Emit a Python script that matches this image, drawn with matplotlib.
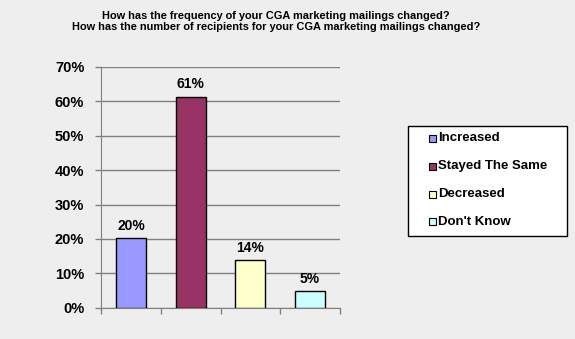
import matplotlib.pyplot as plt
from matplotlib.patches import Rectangle
from matplotlib.ticker import MultipleLocator, FuncFormatter

plt.rcParams['font.family'] = ['Liberation Sans', 'DejaVu Sans']

# data
categories = ['Increased', 'Stayed The Same', 'Decreased', "Don't Know"]
values = [20.3, 61.4, 13.8, 4.8]
labels = ['20%', '61%', '14%', '5%']
colors = ['#9999FF', '#993366', '#FFFFCC', '#CCFFFF']

W, H = 575, 339
bg = '#EEEEEE'
fig = plt.figure(figsize=(W / 100, H / 100), dpi=100, facecolor=bg)
ax = fig.add_axes([101 / W, 1 - 307.7 / H, 239 / W, 240.7 / H], facecolor=bg)

x = range(len(categories))
bars = ax.bar(x, values, width=0.5, color=colors, edgecolor='black', linewidth=1, zorder=3)

for b, lab in zip(bars, labels):
    ax.text(b.get_x() + b.get_width() / 2, b.get_height() + 1.5, lab,
            ha='center', va='bottom', fontsize=10, fontweight='bold')

ax.set_xlim(-0.5, 3.5)
ax.set_ylim(0, 70)
ax.yaxis.set_major_locator(MultipleLocator(10))
ax.yaxis.set_major_formatter(FuncFormatter(lambda v, p: f'{v:.0f}%'))
ax.set_xticks([-0.5, 0.5, 1.5, 2.5, 3.5])
ax.set_xticklabels([])
ax.tick_params(axis='x', length=4, color='#808080', width=1)
ax.tick_params(axis='y', length=4, color='#808080', width=1, labelsize=10.5, pad=8)
for t in ax.get_yticklabels():
    t.set_fontweight('bold')

ax.grid(axis='y', color='#808080', linewidth=1, zorder=0)
for s in ['top', 'right']:
    ax.spines[s].set_visible(False)
for s in ['left', 'bottom']:
    ax.spines[s].set_color('#808080')

fig.text(276 / W, 1 - 21.5 / H, 'How has the frequency of your CGA marketing mailings changed?\n'
         'How has the number of recipients for your CGA marketing mailings changed?',
         ha='center', va='center', fontsize=7.9, fontweight='bold', linespacing=1.15)

# legend box drawn by hand (Excel style)
fig.patches.append(Rectangle((408 / W, 1 - 236 / H), 159 / W, 110 / H,
                             transform=fig.transFigure, facecolor='white',
                             edgecolor='black', linewidth=1))
for i, (c, name) in enumerate(zip(colors, categories)):
    yc = 1 - (138.5 + i * 27.8) / H
    fig.patches.append(Rectangle((429 / W, yc - 3.5 / H), 7 / W, 7 / H,
                                 transform=fig.transFigure, facecolor=c,
                                 edgecolor='black', linewidth=0.8))
    fig.text(438 / W, yc, name, ha='left', va='center', fontsize=9.5, fontweight='bold')

fig.savefig('out.png', dpi=100, facecolor=bg)
